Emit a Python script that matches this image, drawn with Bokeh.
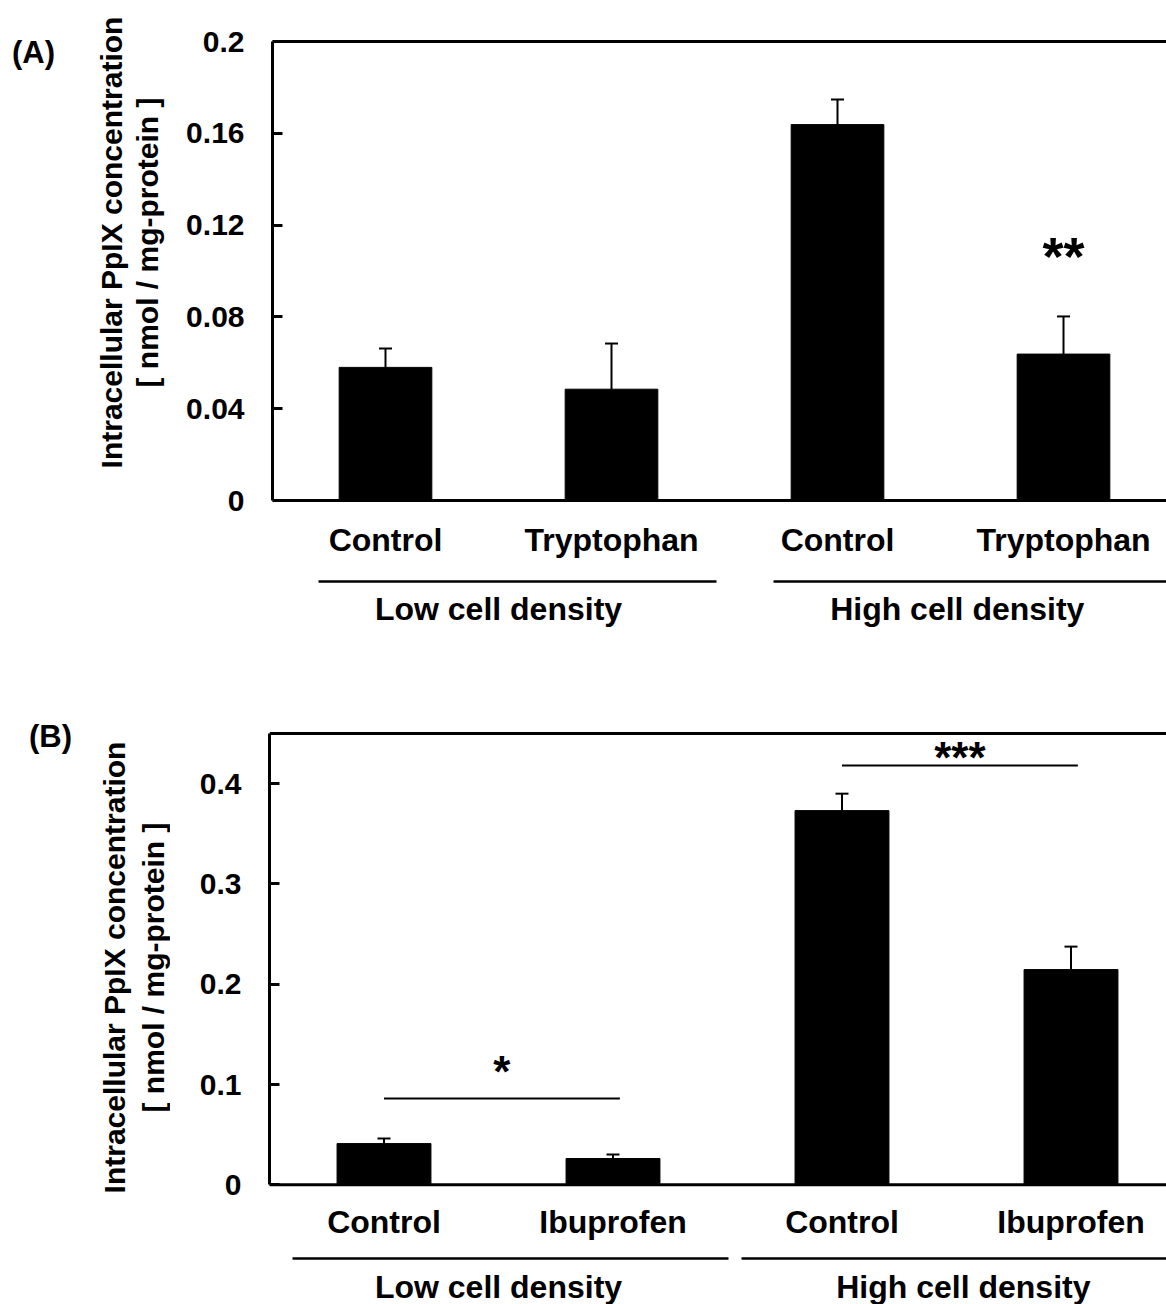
import math
from bokeh.plotting import figure
from bokeh.layouts import column, row
from bokeh.models import (ColumnDataSource, Whisker, TeeHead, Span,
                          LinearAxis, FixedTicker, Range1d)
from bokeh.core.properties import value
from bokeh.embed import file_html
from bokeh.resources import INLINE

FONT = "Liberation Sans"

# ---------------- Panel A data ----------------
a_categories = ["Control", "Tryptophan", "Control", "Tryptophan"]
a_groups = ["Low cell density", "High cell density"]
a_means = [0.058, 0.0485, 0.1638, 0.0638]
a_errors = [0.0082, 0.0199, 0.0109, 0.0164]
a_ticks = [0, 0.04, 0.08, 0.12, 0.16, 0.2]
a_tick_labels = ["0", "0.04", "0.08", "0.12", "0.16", "0.2"]
a_star_text = ["**"]
a_star_index = [3]
a_star_value = [0.1094]

# ---------------- Panel B data ----------------
b_categories = ["Control", "Ibuprofen", "Control", "Ibuprofen"]
b_groups = ["Low cell density", "High cell density"]
b_means = [0.0411, 0.0262, 0.3731, 0.2146]
b_errors = [0.0050, 0.0040, 0.0169, 0.0229]
b_ticks = [0, 0.1, 0.2, 0.3, 0.4]
b_tick_labels = ["0", "0.1", "0.2", "0.3", "0.4"]
b_sig_pairs = [(0, 1), (2, 3)]
b_sig_line_value = [0.086, 0.418]
b_sig_text = ["*", "***"]
b_sig_star_value = [0.118, 0.431]

Y_TITLE = ["Intracellular PpIX concentration", "[ nmol / mg-protein ]"]

PAGE_W = 1166
SIDE_W = 170          # width of the side strip holding the y title and letter


def make_side(cfg):
    """Side strip (frame = whole canvas, data units = pixels)."""
    h = cfg["fig_h"]
    top = cfg["fig_top_abs"]
    s = figure(width=SIDE_W, height=h, output_backend="svg",
               toolbar_location=None, tools="",
               x_range=Range1d(0, SIDE_W), y_range=Range1d(0, h),
               min_border=0, x_axis_location=None, y_axis_location=None)
    s.outline_line_color = None
    s.grid.visible = False
    yy = h - (cfg["title_y_abs"] - top)
    s.text(x=cfg["title_x_abs"], y=[yy, yy], text=Y_TITLE,
           angle=math.pi / 2, text_align="center", text_baseline="middle",
           text_font=value(FONT), text_font_style="bold",
           text_font_size="30px", text_color="black")
    lx, ly = cfg["letter_abs"]
    s.text(x=[lx], y=[h - (ly - top)], text=[cfg["letter"]],
           text_align="center", text_baseline="middle",
           text_font=value(FONT), text_font_style="bold",
           text_font_size="31px", text_color="black")
    return s


def make_panel(cfg):
    fig_top_abs = cfg["fig_top_abs"]
    fig_h = cfg["fig_h"]
    fig_w = PAGE_W - SIDE_W
    frame_left_abs = cfg["frame_left_abs"]
    border_left = frame_left_abs - SIDE_W
    unit_x = cfg["unit_x"]
    zero_abs = cfg["zero_abs"]
    box_top_abs = cfg["box_top_abs"]
    y_top = cfg["y_top"]
    ppy = (zero_abs - box_top_abs) / y_top
    y_start = -(fig_top_abs + fig_h - zero_abs) / ppy
    y_end = y_top + (box_top_abs - fig_top_abs) / ppy
    x_end = (PAGE_W - frame_left_abs) / unit_x

    def ypx(abs_px):
        return (zero_abs - abs_px) / ppy

    def xpx(abs_px):
        return (abs_px - frame_left_abs) / unit_x

    p = figure(width=fig_w, height=fig_h, output_backend="svg",
               toolbar_location=None, tools="",
               x_range=Range1d(0, x_end), y_range=Range1d(y_start, y_end),
               min_border_left=border_left, min_border_right=0,
               min_border_top=0, min_border_bottom=0,
               x_axis_location=None, y_axis_location=None)
    p.outline_line_color = None
    p.grid.visible = False

    # left axis = left side of the box
    yax = LinearAxis(bounds=(0, y_top))
    yax.ticker = FixedTicker(ticks=cfg["ticks"])
    yax.major_label_overrides = {t: l for t, l in zip(cfg["ticks"], cfg["tick_labels"])}
    yax.axis_line_width = 3
    yax.axis_line_color = "black"
    yax.major_tick_line_width = 3
    yax.major_tick_in = 10
    yax.major_tick_out = 0
    yax.minor_tick_line_color = None
    yax.major_label_standoff = 28
    yax.major_label_text_font = FONT
    yax.major_label_text_font_style = "bold"
    yax.major_label_text_font_size = "30px"
    yax.major_label_text_color = "black"
    p.add_layout(yax, "left")

    # top and bottom sides of the box
    p.add_layout(Span(location=y_top, dimension="width", line_color="black",
                      line_width=3))
    p.add_layout(Span(location=0, dimension="width", line_color="black",
                      line_width=3))

    cats = cfg["categories"]
    xs = [i + 0.5 for i in range(len(cats))]
    means = cfg["means"]
    errs = cfg["errors"]
    src = ColumnDataSource(dict(x=xs, top=means,
                                upper=[m + e for m, e in zip(means, errs)],
                                cat=cats))
    p.vbar(x="x", top="top", bottom=0, width=0.41, source=src,
           fill_color="black", line_color="black", line_width=1)
    p.add_layout(Whisker(base="x", lower="top", upper="upper", source=src,
                         line_color="black", line_width=2, lower_head=None,
                         upper_head=TeeHead(size=13, line_width=2,
                                            line_color="black")))

    # category labels below axis
    p.text(x="x", y=ypx(cfg["cat_mid_abs"]), text="cat", source=src,
           text_font=value(FONT), text_font_style="bold",
           text_font_size="32px", text_align="center",
           text_baseline="middle", text_color="black")

    # group lines and labels
    gx0 = [xpx(v) for v in cfg["group_line_px"][0]]
    gx1 = [xpx(v) for v in cfg["group_line_px"][1]]
    gy = ypx(cfg["group_line_abs"])
    p.segment(x0=gx0, y0=[gy] * 2, x1=gx1, y1=[gy] * 2,
              line_color="black", line_width=2.5)
    gcx = [(xs[0] + xs[1]) / 2, (xs[2] + xs[3]) / 2 + 0.03]
    p.text(x=gcx, y=[ypx(cfg["group_mid_abs"])] * 2, text=cfg["groups"],
           text_font=value(FONT), text_font_style="bold",
           text_font_size="32px", text_align="center",
           text_baseline="middle", text_color="black")
    return p, xs, ppy


STAR_SHIFT = 0.115   # ink centre of '*' above the 'middle' anchor, in em

# ---------------- Panel A ----------------
cfgA = dict(fig_top_abs=0, fig_h=648, frame_left_abs=272, unit_x=226,
            zero_abs=500, box_top_abs=41, y_top=0.2,
            ticks=a_ticks, tick_labels=a_tick_labels,
            categories=a_categories, means=a_means, errors=a_errors,
            groups=a_groups,
            cat_mid_abs=539, group_line_abs=581, group_mid_abs=608,
            group_line_px=([318, 773], [716, 1170]),
            title_x_abs=[110.5, 147], title_y_abs=242,
            letter="(A)", letter_abs=(33, 52))
pA, xsA, ppyA = make_panel(cfgA)
sideA = make_side(cfgA)
star_size_a = 54
star_src_a = ColumnDataSource(dict(
    x=[xsA[i] for i in a_star_index],
    y=[v - STAR_SHIFT * star_size_a / ppyA for v in a_star_value],
    t=a_star_text))
pA.text(x="x", y="y", text="t", source=star_src_a, text_font=value(FONT),
        text_font_style="bold", text_font_size=f"{star_size_a}px",
        text_align="center", text_baseline="middle", text_color="black")

# ---------------- Panel B ----------------
cfgB = dict(fig_top_abs=648, fig_h=656, frame_left_abs=269, unit_x=229,
            zero_abs=1184.3, box_top_abs=733, y_top=0.45,
            ticks=b_ticks, tick_labels=b_tick_labels,
            categories=b_categories, means=b_means, errors=b_errors,
            groups=b_groups,
            cat_mid_abs=1221, group_line_abs=1258, group_mid_abs=1286,
            group_line_px=([292, 741], [728, 1170]),
            title_x_abs=[113.5, 153], title_y_abs=967,
            letter="(B)", letter_abs=(50, 736))
pB, xsB, ppyB = make_panel(cfgB)
sideB = make_side(cfgB)
sx0 = [xsB[a] for a, b in b_sig_pairs]
sx1 = [xsB[b] + 0.03 for a, b in b_sig_pairs]
pB.segment(x0=sx0, y0=b_sig_line_value, x1=sx1, y1=b_sig_line_value,
           line_color="black", line_width=2)
star_size_b = 44
star_src_b = ColumnDataSource(dict(
    x=[(a + b) / 2 for a, b in zip(sx0, sx1)],
    y=[v - STAR_SHIFT * star_size_b / ppyB for v in b_sig_star_value],
    t=b_sig_text))
pB.text(x="x", y="y", text="t", source=star_src_b, text_font=value(FONT),
        text_font_style="bold", text_font_size=f"{star_size_b}px",
        text_align="center", text_baseline="middle", text_color="black")

layout = column(row(sideA, pA, spacing=0), row(sideB, pB, spacing=0), spacing=0)
open("out.html", "w").write(file_html(layout, INLINE))
